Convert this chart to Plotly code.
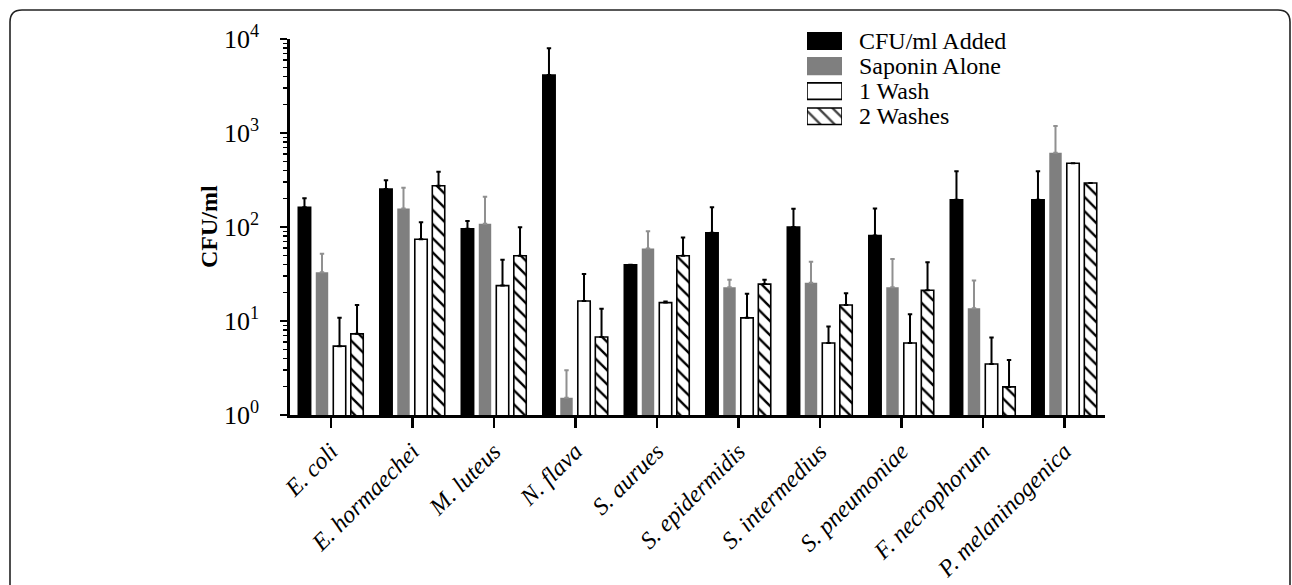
import plotly.graph_objects as go

categories = ["E. coli", "E. hormaechei", "M. luteus", "N. flava", "S. aurues",
              "S. epidermidis", "S. intermedius", "S. pneumoniae", "F. necrophorum",
              "P. melaninogenica"]

series_names = ["CFU/ml Added", "Saponin Alone", "1 Wash", "2 Washes"]

added = [162, 254, 96, 4140, 39.7, 87, 100, 81, 195, 195]
added_err = [40, 60, 20, 3810, None, 75, 56, 76, 196, 196]

saponin = [33, 157, 108, 1.53, 59, 22.8, 25.6, 22.8, 13.7, 617]
saponin_err = [19, 105, 102, 1.47, 31, 4.7, 17, 23, 13.3, 569]

wash1 = [5.4, 74, 23.8, 16.3, 15.7, 10.8, 5.83, 5.83, 3.49, 476]
wash1_err = [5.4, 38, 21, 15.3, 0.4, 8.7, 2.9, 6.0, 3.2, None]

wash2 = [7.3, 275, 49.5, 6.76, 49.5, 24.7, 14.8, 21.2, 1.99, 294]
wash2_err = [7.5, 113, 50, 6.7, 28, 2.8, 4.9, 21, 1.86, None]

ytick_vals = [1, 10, 100, 1000, 10000]
ytick_text = ["10<sup>0</sup>", "10<sup>1</sup>", "10<sup>2</sup>", "10<sup>3</sup>", "10<sup>4</sup>"]

FONT = "Liberation Serif"
GRAY = "#7f7f7f"

# pixel geometry helpers (layout only)
W, H = 1292, 585
L, R, T, B = 290, 187, 20, 170
plot_top_px = 39
pw = W - L - R
ph = H - T - B


def px_x(px):
    return (px - L) / pw


def px_y(py):
    return (H - B - py) / ph


def zeros(errs):
    return [0 if e is not None else None for e in errs]


minor_vals = [m * 10 ** k for k in range(4) for m in range(2, 10)]

fig = go.Figure()

HATCH = dict(shape="\\", fgcolor="black", bgcolor="white", fgopacity=1, size=10, solidity=0.24)

styles = [
    dict(color="black", line=dict(color="black", width=1.5)),
    dict(color=GRAY, line=dict(color=GRAY, width=0)),
    dict(color="white", line=dict(color="black", width=1.6)),
    dict(color="white", line=dict(color="black", width=1.6), pattern=HATCH),
]
err_colors = ["black", "#909090", "black", "black"]
vals = [added, saponin, wash1, wash2]
errs = [added_err, saponin_err, wash1_err, wash2_err]

for name, v, e, st, ec in zip(series_names, vals, errs, styles, err_colors):
    fig.add_trace(go.Bar(
        x=categories, y=v, name=name, marker=st,
        error_y=dict(type="data", array=e, arrayminus=zeros(e), symmetric=False,
                     color=ec, thickness=2, width=2.2),
        showlegend=False,
        xaxis="x", yaxis="y",
    ))

# custom legend drawn as bars on a hidden sub-axis
legend_fill = ["black", GRAY, "white", "white"]
legend_line = ["black", GRAY, "black", "black"]
legend_pattern = ["", "", "", "\\"]
fig.add_trace(go.Bar(
    y=series_names, x=[1, 1, 1, 1], orientation="h", width=0.66,
    marker=dict(color=legend_fill, line=dict(color=legend_line, width=1.6),
                pattern=dict(shape=legend_pattern, fgcolor="black", fgopacity=1,
                             size=10, solidity=0.24)),
    xaxis="x2", yaxis="y2", showlegend=False, hoverinfo="skip",
))
for name in series_names:
    fig.add_annotation(x=px_x(857), xref="paper", y=name, yref="y2",
                       text=name, showarrow=False, xanchor="left", yanchor="middle",
                       font=dict(family=FONT, size=24, color="black"))

# y-axis title
fig.add_annotation(x=px_x(209), xref="paper", y=px_y((39 + 415) / 2), yref="paper",
                   text="<b>CFU/ml</b>", textangle=-90, showarrow=False,
                   xanchor="center", yanchor="middle",
                   font=dict(family=FONT, size=24, color="black"))

# rounded frame
x0, y0, x1, y1, rr = px_x(10), px_y(10), px_x(1290), px_y(640), 12
rx, ry = rr / pw, rr / ph
path = (f"M {x0},{y1} L {x0},{y0 - ry} Q {x0},{y0} {x0 + rx},{y0} "
        f"L {x1 - rx},{y0} Q {x1},{y0} {x1},{y0 - ry} L {x1},{y1}")
fig.add_shape(type="path", path=path, xref="paper", yref="paper",
              line=dict(color="#222222", width=1.6), layer="above")

fig.update_layout(
    width=W, height=H,
    margin=dict(l=L, r=R, t=T, b=B, pad=0, autoexpand=False),
    paper_bgcolor="white", plot_bgcolor="white",
    barmode="group", bargap=0.14, bargroupgap=0.29,
    font=dict(family=FONT, color="black"),
    xaxis=dict(
        domain=[0, 1], range=[-0.5, 9.5], showline=True, linecolor="black", linewidth=2.8,
        ticks="outside", ticklen=10, tickwidth=2.5, tickcolor="black",
        tickangle=-45, tickfont=dict(family=FONT, size=24, style="italic", color="black"),
        showgrid=False, zeroline=False, anchor="y", automargin=False,
    ),
    yaxis=dict(
        domain=[0, (H - B - plot_top_px) / ph], type="log", range=[0, 4],
        showline=True, linecolor="black", linewidth=2.8,
        ticks="outside", ticklen=7, tickwidth=2.5, tickcolor="black",
        tickmode="array", tickvals=ytick_vals, ticktext=ytick_text,
        tickfont=dict(family=FONT, size=26, color="black"), ticklabelstandoff=16,
        minor=dict(ticks="outside", ticklen=4, tickwidth=1.5, tickcolor="black",
                   tickmode="array", tickvals=minor_vals, showgrid=False),
        showgrid=False, zeroline=False, anchor="x", automargin=False,
    ),
    xaxis2=dict(domain=[px_x(807), px_x(842)], range=[0, 1], visible=False, anchor="y2",
                fixedrange=True),
    yaxis2=dict(domain=[px_y(26 + 4 * 26.3), px_y(26)], visible=False, anchor="x2",
                autorange="reversed", type="category", fixedrange=True),
)

fig.write_html("out.html", config={"displayModeBar": False, "staticPlot": True},
               post_script="document.body.style.margin='0px';")
